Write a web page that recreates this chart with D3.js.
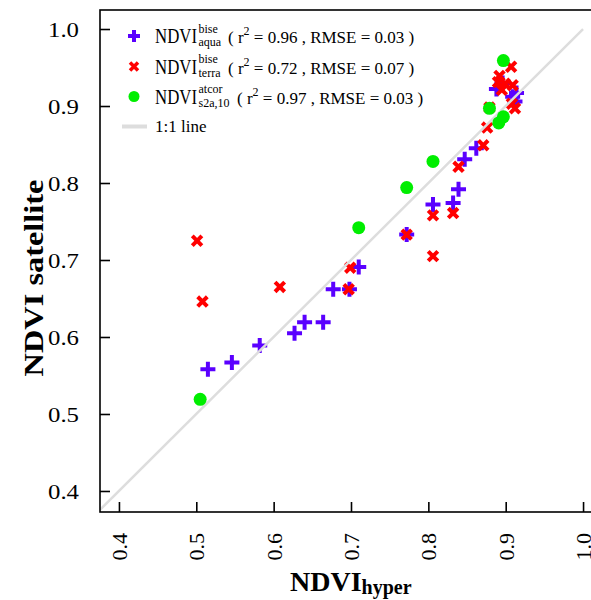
<!DOCTYPE html>
<html><head><meta charset="utf-8">
<script src="https://cdn.jsdelivr.net/npm/d3@7"></script>
<style>
body{margin:0;background:#fff}
text{font-family:"Liberation Serif","Times New Roman",serif;fill:#000}
</style>
</head><body>
<svg id="c" width="591" height="600"></svg>
<script>
// ---- data ----
const aquaX = [0.515,0.546,0.582,0.627,0.640,0.664,0.677,0.698,0.710,0.772,0.806,0.832,0.839,0.847,0.862,0.888,0.896,0.909,0.914,0.912];
const aquaY = [0.558,0.567,0.589,0.605,0.619,0.619,0.662,0.662,0.691,0.733,0.772,0.774,0.792,0.831,0.845,0.922,0.930,0.912,0.917,0.906];
const terraX = [0.501,0.508,0.608,0.697,0.699,0.772,0.806,0.806,0.832,0.839,0.871,0.876,0.879,0.892,0.890,0.899,0.895,0.907,0.909,0.912,0.908];
const terraY = [0.725,0.646,0.665,0.662,0.690,0.733,0.758,0.705,0.761,0.821,0.849,0.872,0.898,0.939,0.931,0.929,0.921,0.951,0.927,0.897,0.903];
const s2aX = [0.505,0.710,0.772,0.806,0.879,0.891,0.897,0.897];
const s2aY = [0.519,0.742,0.794,0.828,0.897,0.878,0.886,0.959];
const xTicks = [0.4,0.5,0.6,0.7,0.8,0.9,1.0];
const yTicks = [0.4,0.5,0.6,0.7,0.8,0.9,1.0];
const legendSup = ["bise","bise","atcor"];
const legendSub = ["aqua","terra","s2a,10"];
const legendR2 = ["0.96","0.72","0.97"];
const legendRMSE = ["0.03","0.07","0.03"];

const BLUE="#5a00ff", RED="#ff0000", GREEN="#00ee00", LINE="#dddddd";

const svg = d3.select("#c");
const x = d3.scaleLinear().domain([0.3755,1.0245]).range([100,602]);
const y = d3.scaleLinear().domain([0.3727,1.0247]).range([512,10]);

svg.append("defs").append("clipPath").attr("id","clip")
  .append("rect").attr("x",100).attr("y",10).attr("width",502).attr("height",502);

const plot = svg.append("g").attr("clip-path","url(#clip)");

const aqua = aquaX.map((v,i)=>({x:v,y:aquaY[i]}));
const terra = terraX.map((v,i)=>({x:v,y:terraY[i]}));
const s2a = s2aX.map((v,i)=>({x:v,y:s2aY[i]}));

const plusPath = "M-7.5,0H7.5M0,-7.5V7.5";
const crossPath = "M-4.8,-4.8L4.8,4.8M-4.8,4.8L4.8,-4.8";

plot.selectAll(".aqua").data(aqua).join("path").attr("class","aqua")
  .attr("transform",d=>`translate(${x(d.x)},${y(d.y)})`)
  .attr("d",plusPath).attr("stroke",BLUE).attr("stroke-width",4).attr("fill","none");

plot.selectAll(".terra").data(terra).join("path").attr("class","terra")
  .attr("transform",d=>`translate(${x(d.x)},${y(d.y)})`)
  .attr("d",crossPath).attr("stroke",RED).attr("stroke-width",4).attr("fill","none");

plot.append("line")
  .attr("x1",x(0.3755)).attr("y1",y(0.3755)).attr("x2",x(1.0)).attr("y2",y(1.0))
  .attr("stroke",LINE).attr("stroke-width",2.5);

plot.selectAll(".s2a").data(s2a).join("circle").attr("class","s2a")
  .attr("cx",d=>x(d.x)).attr("cy",d=>y(d.y)).attr("r",6.5).attr("fill",GREEN);

// frame
svg.append("rect").attr("x",100).attr("y",10).attr("width",502).attr("height",502)
  .attr("fill","none").attr("stroke","#000").attr("stroke-width",1.6);

// axes
const xa = svg.append("g").attr("transform","translate(0,512)")
  .call(d3.axisBottom(x).tickValues(xTicks).tickFormat(d3.format(".1f")).tickSize(-10));
xa.select(".domain").remove();
xa.selectAll("line").attr("stroke","#000").attr("stroke-width",1.6);
xa.selectAll("text").attr("transform","rotate(-90)").attr("x",-21).attr("y",0)
  .attr("dy","0.34em").style("text-anchor","end").style("font-size","22px")
  .style("font-family","'Liberation Serif',serif").attr("fill","#000");

const ya = svg.append("g").attr("transform","translate(100,0)")
  .call(d3.axisLeft(y).tickValues(yTicks).tickFormat(d3.format(".1f")).tickSize(-10).tickPadding(21));
ya.select(".domain").remove();
ya.selectAll("line").attr("stroke","#000").attr("stroke-width",1.6);
ya.selectAll("text").style("font-size","22px").style("font-family","'Liberation Serif',serif")
  .attr("fill","#000").attr("dy","0.34em").attr("textLength",31).attr("lengthAdjust","spacingAndGlyphs");

// axis titles
const xt = svg.append("text").attr("x",290).attr("y",590.5).style("font-weight","bold");
xt.append("tspan").style("font-size","28px").text("NDVI");
xt.append("tspan").style("font-size","20px").attr("dy",3).text("hyper");

svg.append("text").attr("transform","translate(43,278) rotate(-90)")
  .style("text-anchor","middle").style("font-weight","bold").style("font-size","28px")
  .attr("textLength",197).attr("lengthAdjust","spacingAndGlyphs")
  .text("NDVI satellite");

// legend
const rowsY = [43, 73.5, 103.5];
rowsY.forEach((ry,i)=>{
  const cy = ry-7;
  if(i===0) svg.append("path").attr("transform",`translate(134,${cy})`).attr("d","M-6,0H6M0,-6V6")
      .attr("stroke",BLUE).attr("stroke-width",4).attr("fill","none");
  if(i===1) svg.append("path").attr("transform",`translate(134,${cy})`).attr("d","M-4,-4L4,4M-4,4L4,-4")
      .attr("stroke",RED).attr("stroke-width",3.5).attr("fill","none");
  if(i===2) svg.append("circle").attr("cx",134).attr("cy",cy).attr("r",5.5).attr("fill",GREEN);
  svg.append("text").attr("x",155).attr("y",ry).style("font-size","20px")
    .attr("textLength",42).attr("lengthAdjust","spacingAndGlyphs").text("NDVI");
  svg.append("text").attr("x",198.5).attr("y",ry-10.5).style("font-size","12px").text(legendSup[i]);
  svg.append("text").attr("x",198.5).attr("y",ry+3).style("font-size","12px").text(legendSub[i]);
  const rx = i===2 ? 237 : 228;
  const t = svg.append("text").attr("x",rx).attr("y",ry).style("font-size","17px");
  t.append("tspan").text("( r");
  t.append("tspan").attr("dy",-8).style("font-size","12px").text("2");
  t.append("tspan").attr("dy",8).text(` = ${legendR2[i]} , RMSE = ${legendRMSE[i]} )`);
});
svg.append("line").attr("x1",122).attr("x2",147).attr("y1",126.5).attr("y2",126.5)
  .attr("stroke",LINE).attr("stroke-width",4);
svg.append("text").attr("x",155).attr("y",131.5).style("font-size","17px").text("1:1 line");
</script>
</body></html>
